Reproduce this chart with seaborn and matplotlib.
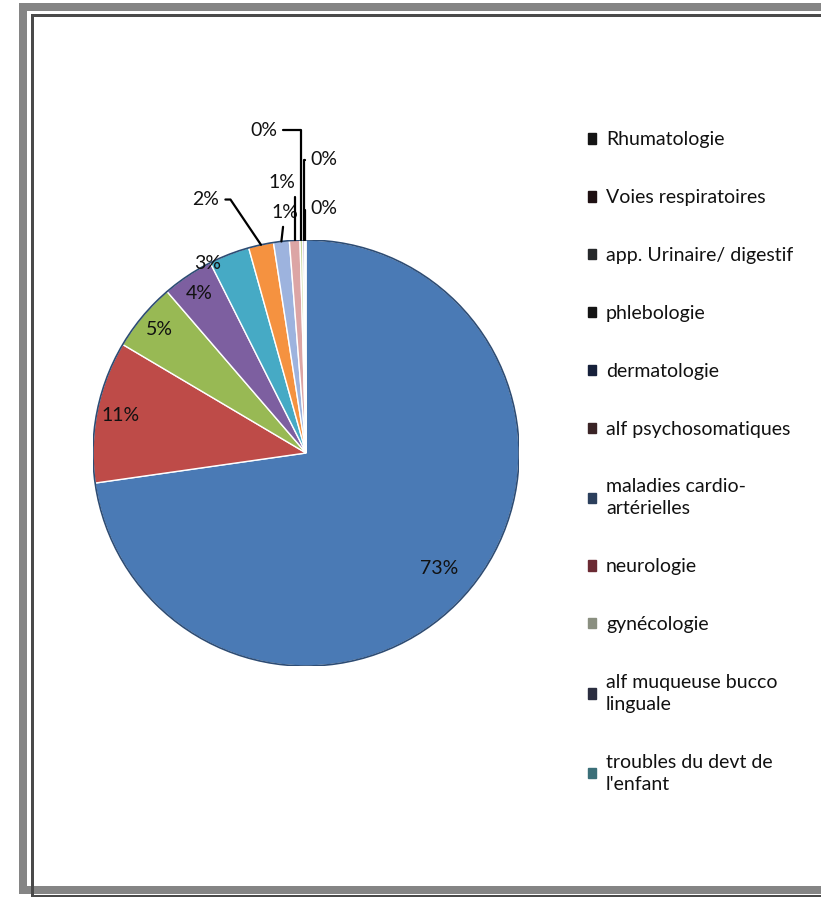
import matplotlib.pyplot as plt
import seaborn as sns
import numpy as np
from matplotlib.patches import Circle
from matplotlib.lines import Line2D

categories = ['Rhumatologie', 'Voies respiratoires', 'app. Urinaire/ digestif',
              'phlebologie', 'dermatologie', 'alf psychosomatiques',
              'maladies cardio-\nartérielles', 'neurologie', 'gynécologie',
              'alf muqueuse bucco\nlinguale', 'troubles du devt de\nl\'enfant']
values = [73.0, 10.8, 5.2, 3.9, 3.1, 1.9, 1.2, 0.8, 0.2, 0.15, 0.1]
slice_colors = ['#4A7AB5', '#BE4B48', '#98B954', '#7D5FA0', '#46AAC5', '#F59240',
                '#9DB3DE', '#DCA5A5', '#C4D79B', '#B3A2C7', '#93CDDD']
legend_colors = ['#141414', '#1e1012', '#26282a', '#141414', '#16203a', '#3a2426',
                 '#2b3f5c', '#6b2a33', '#8a8f80', '#2b2e40', '#3b6f78']

# label placement for the small slices (text centre, connection style)
outside = {
    4: ((-0.46, 0.89), None),
    5: ((-0.47, 1.19), "angle,angleA=0,angleB=124,rad=0"),
    6: ((-0.10, 1.13), "arc3,rad=0"),
    7: ((-0.113, 1.268), "angle,angleA=0,angleB=90,rad=0"),
    8: ((-0.20, 1.516), "angle,angleA=0,angleB=90,rad=0"),
    9: ((0.085, 1.376), "angle,angleA=0,angleB=90,rad=0"),
    10: ((0.085, 1.15), "angle,angleA=0,angleB=90,rad=0"),
}
inside_r = {0: 0.83, 1: 0.89, 2: 0.9, 3: 0.9}

sns.set_theme(style='white')
plt.rcParams['font.family'] = ['Lato', 'DejaVu Sans']

W, H = 821, 897
fig = plt.figure(figsize=(W / 100, H / 100), dpi=100)
cx, cy, R = 306, 453, 213
ax = fig.add_axes([(cx - R) / W, (H - cy - R) / H, 2 * R / W, 2 * R / H])

wedges, _ = ax.pie(values, colors=slice_colors, startangle=90, counterclock=False,
                   radius=1, wedgeprops=dict(edgecolor='white', linewidth=1))
ax.add_patch(Circle((0, 0), 1, fill=False, edgecolor='#2d4c74', linewidth=1.2))
ax.set_xlim(-1, 1)
ax.set_ylim(-1, 1)
ax.set_aspect('equal')
ax.axis('off')

total = sum(values)
for i, w in enumerate(wedges):
    txt = f"{round(values[i] / total * 100):.0f}%"
    mid = np.deg2rad((w.theta1 + w.theta2) / 2)
    if i in inside_r:
        r = inside_r[i]
        ax.text(r * np.cos(mid), r * np.sin(mid), txt, ha='center', va='center',
                fontsize=14, color='#111111')
    else:
        pos, conn = outside[i]
        xy = (np.cos(mid), np.sin(mid))
        if conn is None:
            ax.text(pos[0], pos[1], txt, ha='center', va='center', fontsize=14,
                    color='#111111')
        else:
            ax.annotate(txt, xy=xy, xytext=pos, ha='center', va='center',
                        fontsize=14, color='#111111', annotation_clip=False,
                        arrowprops=dict(arrowstyle='-', color='black', lw=1.6,
                                        connectionstyle=conn, shrinkA=2, shrinkB=0))

leg = fig.legend(wedges, categories, loc='upper left',
                 bbox_to_anchor=(570 / W, 1 - 114 / H), frameon=False,
                 fontsize=14, labelspacing=2.1, handlelength=0.45, handleheight=0.45,
                 handletextpad=0.5)
for h, c in zip(leg.legend_handles, legend_colors):
    h.set_facecolor(c)
    h.set_edgecolor(c)
for t in leg.get_texts():
    t.set_color('#111111')
    t.set_linespacing(1.35)


def frame(x0, y0, y1, color, lw_px):
    # open frame: left, top and bottom sides, running off the right edge
    xs = [W / W, x0 / W, x0 / W, W / W]
    ys = [1 - y0 / H, 1 - y0 / H, 1 - y1 / H, 1 - y1 / H]
    fig.add_artist(Line2D(xs, ys, transform=fig.transFigure, color=color,
                          linewidth=lw_px * 0.72, solid_joinstyle='miter'))


frame(23, 7.5, 889.5, '#858585', 8)
frame(31.5, 15.5, 895.5, '#4a4a4a', 3)

fig.savefig('out.png', dpi=100)
